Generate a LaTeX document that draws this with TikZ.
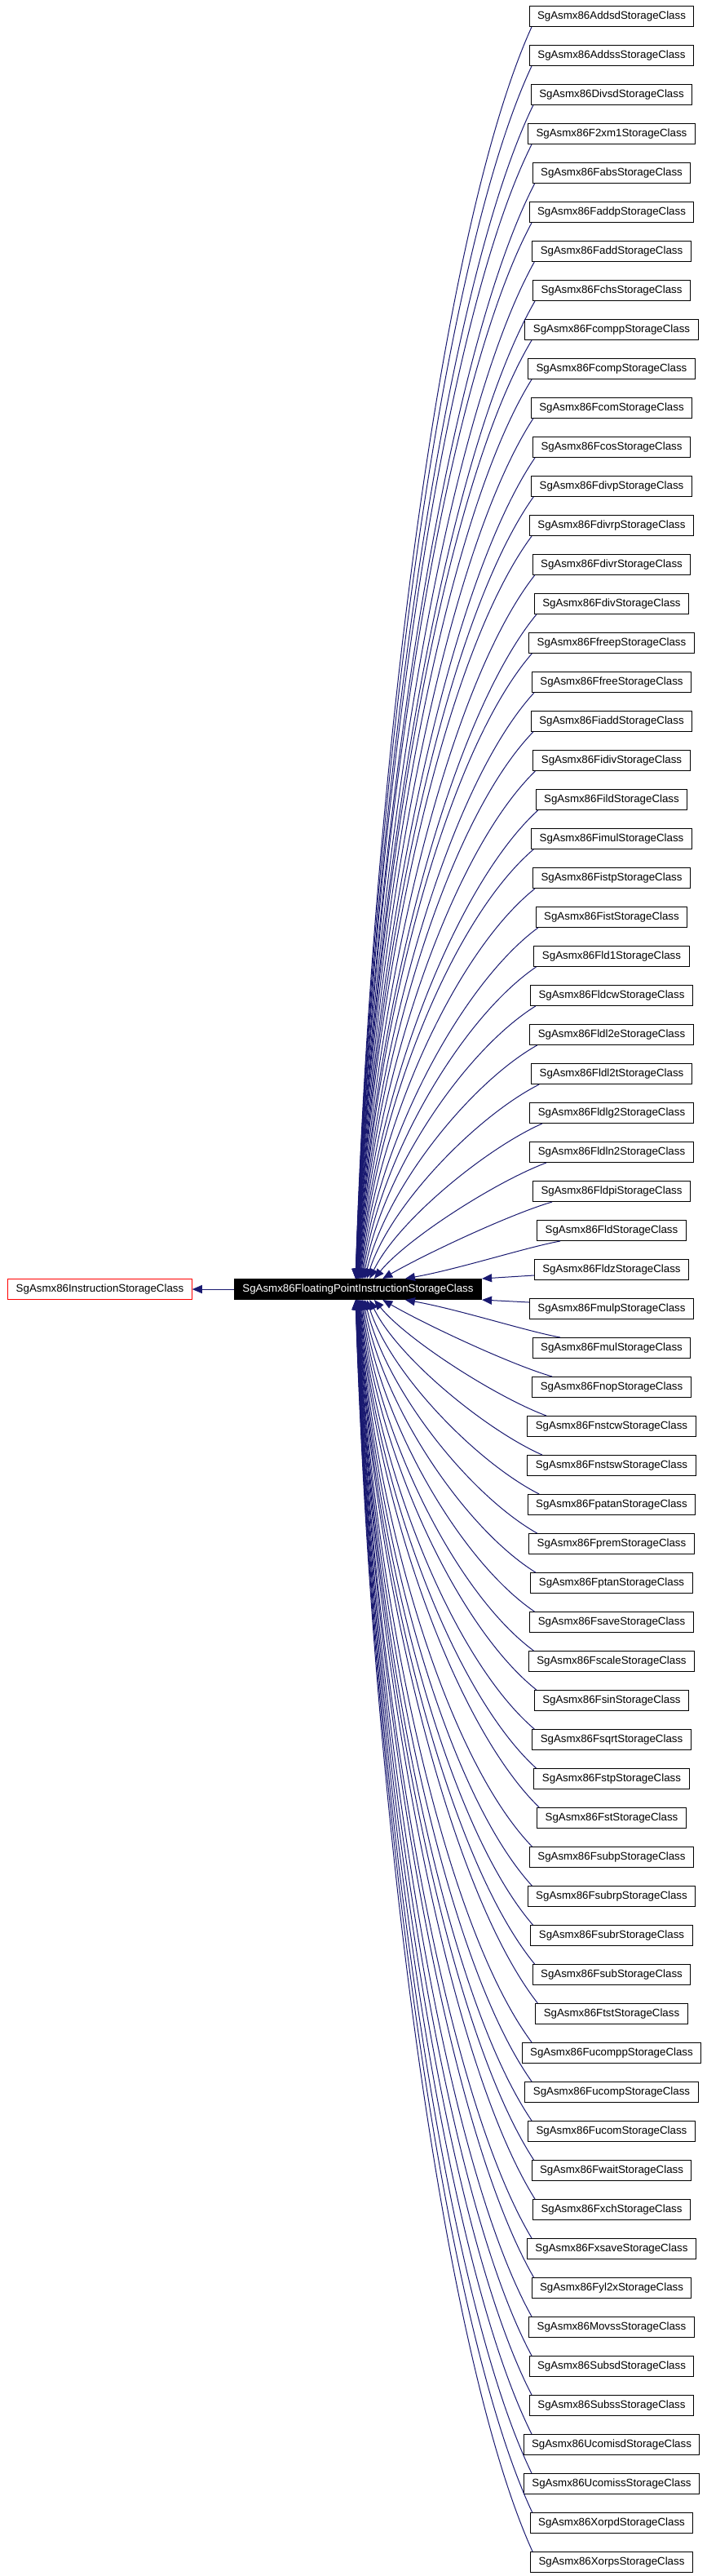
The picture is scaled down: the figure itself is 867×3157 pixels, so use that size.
\documentclass[tikz,border=0pt]{standalone}
\usepackage{fontspec}
\setmainfont{Liberation Sans}
\usetikzlibrary{arrows.meta,calc}
\definecolor{edgeblue}{RGB}{25,25,112}
\begin{document}
\begin{tikzpicture}[x=1pt,y=-1pt,
  cls/.style={draw=black,line width=1pt,fill=white,font=\fontsize{13.3}{16}\selectfont,
    inner xsep=10pt,inner ysep=0pt,minimum height=25pt,text height=9.6pt,text depth=2.8pt},
  mainbox/.style={cls,fill=black,text=white},
  basebox/.style={cls,draw=red},
  edge/.style={draw=edgeblue,line width=1pt,-{Triangle[length=12pt,width=10pt]}}]
\useasboundingbox (0,0) rectangle (867,3157);
\node[basebox] (base) at (122.5,1580) {SgAsmx86InstructionStorageClass};
\node[mainbox] (c) at (439,1580) {SgAsmx86FloatingPointInstructionStorageClass};
\foreach \nm [count=\j from 0] in {Addsd,Addss,Divsd,F2xm1,Fabs,Faddp,Fadd,Fchs,Fcompp,Fcomp,Fcom,Fcos,Fdivp,Fdivrp,Fdivr,Fdiv,Ffreep,Ffree,Fiadd,Fidiv,Fild,Fimul,Fistp,Fist,Fld1,Fldcw,Fldl2e,Fldl2t,Fldlg2,Fldln2,Fldpi,Fld,Fldz,Fmulp,Fmul,Fnop,Fnstcw,Fnstsw,Fpatan,Fprem,Fptan,Fsave,Fscale,Fsin,Fsqrt,Fstp,Fst,Fsubp,Fsubrp,Fsubr,Fsub,Ftst,Fucompp,Fucomp,Fucom,Fwait,Fxch,Fxsave,Fyl2x,Movss,Subsd,Subss,Ucomisd,Ucomiss,Xorpd,Xorps}
  {\node[cls] (n\j) at (750,{20+48*\j}) {SgAsmx86\nm StorageClass};}
% edge to base class
\draw[edge] (c.west) -- (base.east);
% nearest two
\draw[edge] ($(n32.west)+(0,7)$) -- (c.north east);
\draw[edge] ($(n33.west)+(0,-8)$) -- (c.south east);
% upper edges
\foreach \i in {0,...,31} {
  \pgfmathsetmacro\k{32-\i}
  \pgfmathsetmacro\D{48*\k}
  \pgfmathsetmacro\tx{145+65/(\k^0.8)}
  \pgfmathsetmacro\xd{652+35*exp(-(\k-1)/3)}
  \pgfmathsetmacro\cx{112-70*exp(-(\k-1)/6)}
  \pgfmathsetmacro\cy{0.16*\D}
  \pgfmathsetmacro\ax{20+45*exp(-(\k-1)/2.5)}
  \pgfmathsetmacro\by{0.4*\D*(1-0.4*exp(-(\k-1)/2))}
  \draw[edge] let \p1=(n\i.south west) in
    ({max(\x1+3pt,\xd pt)},\y1) .. controls +(-\cx,\cy) and +(\ax,-\by) .. ($(c.north west)+(\tx,0)$);
}
% lower edges
\foreach \i in {34,...,65} {
  \pgfmathsetmacro\k{\i-33}
  \pgfmathsetmacro\D{48*\k}
  \pgfmathsetmacro\tx{145+65/(\k^0.8)}
  \pgfmathsetmacro\xd{652+35*exp(-(\k-1)/3)}
  \pgfmathsetmacro\cx{112-70*exp(-(\k-1)/6)}
  \pgfmathsetmacro\cy{0.16*\D}
  \pgfmathsetmacro\ax{20+45*exp(-(\k-1)/2.5)}
  \pgfmathsetmacro\by{0.4*\D*(1-0.4*exp(-(\k-1)/2))}
  \draw[edge] let \p1=(n\i.north west) in
    ({max(\x1+3pt,\xd pt)},\y1) .. controls +(-\cx,-\cy) and +(\ax,\by) .. ($(c.south west)+(\tx,0)$);
}
\end{tikzpicture}
\end{document}
